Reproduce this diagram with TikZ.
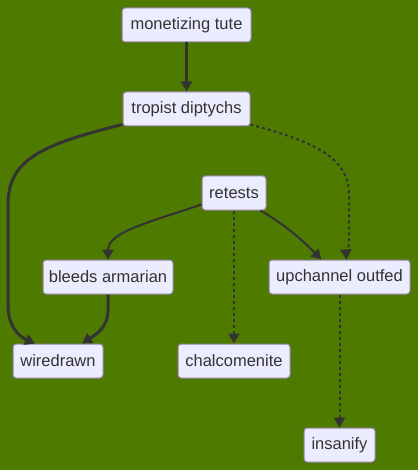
\documentclass[tikz,border=0pt]{standalone}
\usepackage{fontspec}
\setmainfont{Liberation Sans}
\usetikzlibrary{arrows.meta}
\definecolor{bg}{HTML}{4E7A00}
\definecolor{nfill}{HTML}{ECECFF}
\definecolor{nborder}{HTML}{9080A8}
\definecolor{ink}{HTML}{333333}
\tikzset{
  box/.style={draw=nborder, fill=nfill, line width=1pt, rounded corners=3pt,
    minimum height=34pt, inner sep=0pt, text=ink,
    font=\fontsize{16.5}{19}\selectfont},
  tip/.style={-{Triangle[length=10pt,width=11pt]}},
  edgethick/.style={tip, draw=ink, line width=3pt},
  edgenorm/.style={tip, draw=ink, line width=2pt},
  edgedot/.style={tip, draw=ink, line width=2pt, dash pattern=on 3pt off 3pt},
}
\begin{document}
\begin{tikzpicture}[x=1pt,y=-1pt]
\fill[bg] (0,0) rectangle (418,470);
\useasboundingbox (0,0) rectangle (418,470);
\node[box, minimum width=129pt] (m) at (186.5,25) {monetizing tute};
\node[box, minimum width=127pt] (t) at (186.5,109) {tropist diptychs};
\node[box, minimum width=64pt] (r) at (234,193) {retests};
\node[box, minimum width=130pt] (b) at (108,277) {bleeds armarian};
\node[box, minimum width=141pt] (u) at (339.5,277) {upchannel outfed};
\node[box, minimum width=90pt] (w) at (58,361) {wiredrawn};
\node[box, minimum width=112pt] (c) at (234,361) {chalcomenite};
\node[box, minimum width=71pt] (i) at (339.5,445) {insanify};
\coordinate (wl) at ([xshift=-23pt]w.north);
\coordinate (wr) at ([xshift=24pt]w.north);
\coordinate (ul) at ([xshift=-18pt]u.north);
\coordinate (ur) at ([xshift=7pt]u.north);
\draw[edgethick] (m.south) -- (t.north);
\draw[edgethick] ([yshift=2pt]t.south west) .. controls (40,145) and (8,160) .. (8,205) -- (8,305) .. controls (8,325) and (18,336) .. (wl);
\draw[edgedot] ([yshift=2pt]t.south east) .. controls (320,143) and (349,160) .. (349,195) -- (349,240) .. controls (349,250) and (346,252) .. (ur);
\draw[edgenorm] ([yshift=6pt]r.south west) .. controls (150,222) and (108,232) .. (b.north);
\draw[edgedot] (r.south) -- (c.north);
\draw[edgenorm] ([xshift=-6pt]r.south east) .. controls (290,228) and (305,243) .. (ul);
\draw[edgethick] (b.south) -- (108,310) .. controls (108,328) and (95,335) .. (wr);
\draw[edgedot] (u.south) -- (i.north);
\end{tikzpicture}
\end{document}
